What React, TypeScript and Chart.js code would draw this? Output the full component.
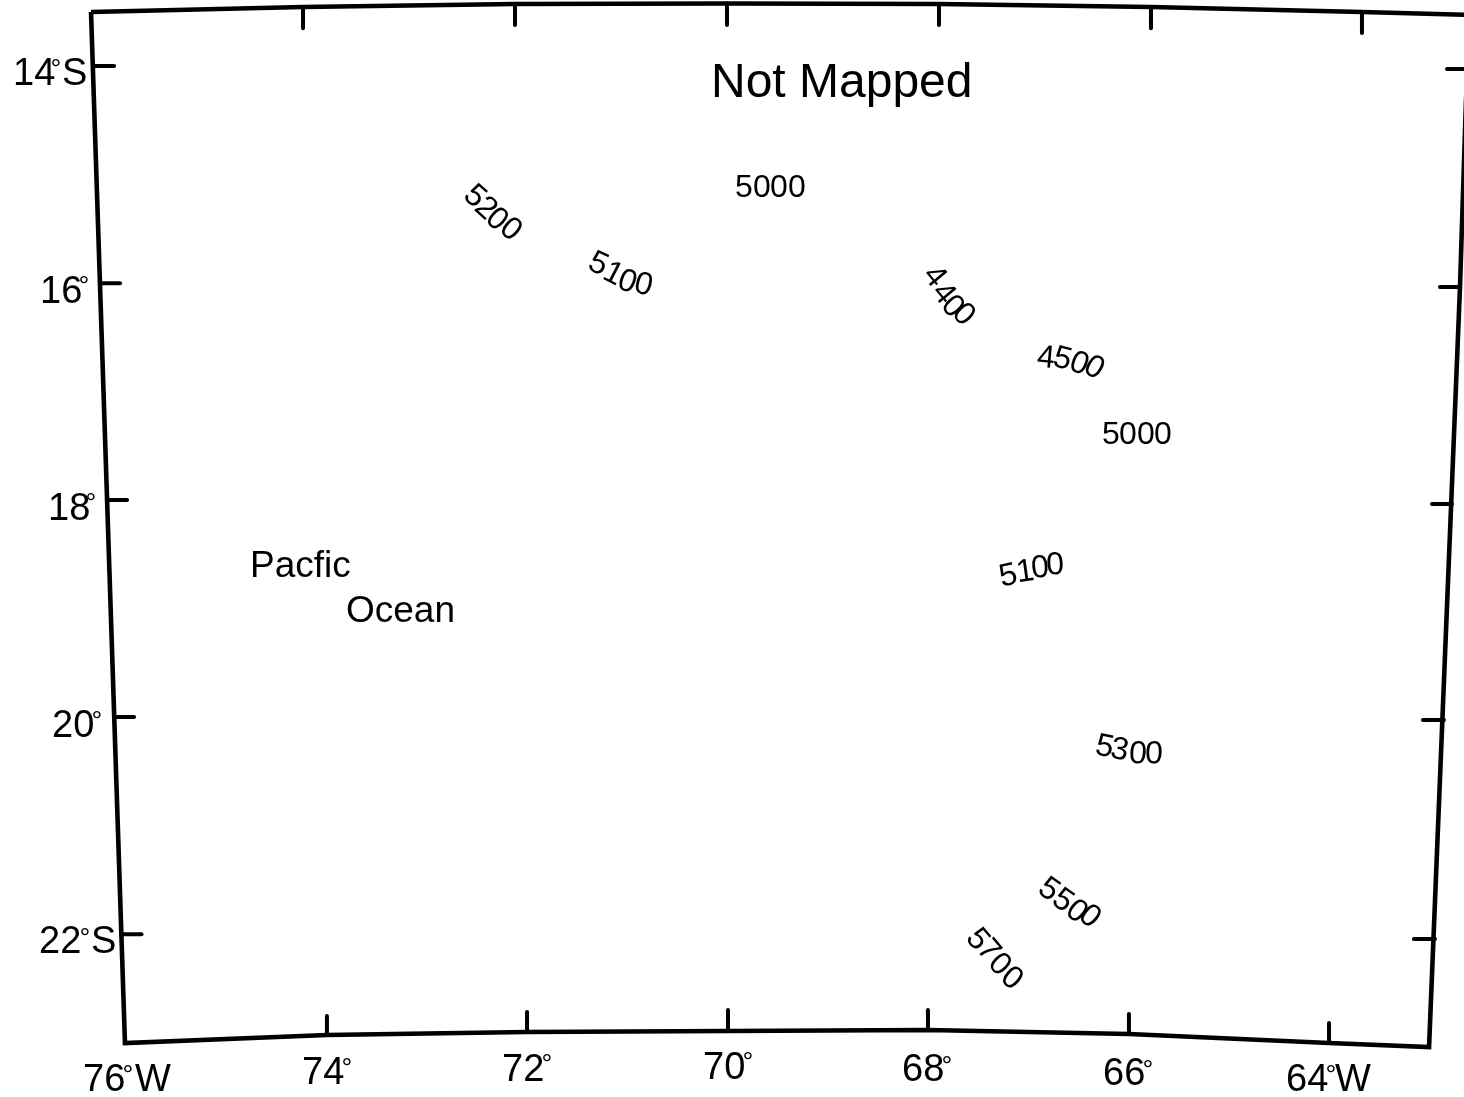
import React, { useEffect, useRef } from "react";
import { Chart, registerables } from "chart.js";

Chart.register(...registerables);

// Map frame, in degrees (west longitude, south latitude) of the map's plotting plane
const frameLon = [76.361, 74.244, 72.127, 70.01, 67.893, 65.776, 63.669, 62.57, 62.63, 62.69, 62.999, 63.998, 65.996, 68.003, 70.0, 72.007, 74.005, 76.022, 76.361];
const frameLat = [13.501, 13.455, 13.427, 13.422, 13.427, 13.455, 13.501, 13.528, 14.312, 16.035, 23.04, 23.003, 22.92, 22.883, 22.892, 22.901, 22.929, 23.003, 13.501];

const topTickLon = [74.244, 72.127, 70.01, 67.893, 65.776, 63.669];
const topTickOuter = [13.455, 13.427, 13.422, 13.427, 13.455, 13.501];
const topTickInner = [13.65, 13.62, 13.62, 13.62, 13.65, 13.695];

const bottomTickLon = [74.005, 72.007, 70.0, 68.003, 65.996, 63.998];
const bottomTickOuter = [22.929, 22.901, 22.892, 22.883, 22.92, 23.003];
const bottomTickInner = [22.754, 22.717, 22.699, 22.699, 22.735, 22.818];

const leftTickLat = [13.998, 16.0, 17.998, 19.998, 22.0];
const leftTickOuter = [76.331, 76.271, 76.201, 76.131, 76.057];
const leftTickInner = [76.131, 76.071, 76.001, 75.931, 75.857];

const rightTickLat = [14.026, 16.035, 18.035, 20.026, 22.044];
const rightTickOuter = [62.62, 62.69, 62.77, 62.85, 62.94];
const rightTickInner = [62.82, 62.89, 62.97, 63.06, 63.15];

// Text
const axisLabelNumbers = ["14", "16", "18", "20", "22", "76", "74", "72", "70", "68", "66", "64"];
const axisLabelSuffixes = ["S", "", "", "", "S", "W", "", "", "", "", "", "W"];
const contourValues = ["5000", "5200", "5100", "4400", "4500", "5000", "5100", "5300", "5500", "5700"];
const placeNames = ["Not Mapped", "Pacfic", "Ocean"];

// Layout of the text, separate from the values above (canvas pixels)
const FONT = '"Liberation Sans", Arial, sans-serif';
const axisFont = 38;
const contourFont = 32;
const degreeFont = 27;
const axisLabelLayout = [
  { x: 13, y: 85, dx: 56, dy: 63, sx: 62 },
  { x: 40, y: 303, dx: 84, dy: 280, sx: 0 },
  { x: 48, y: 520, dx: 91, dy: 497, sx: 0 },
  { x: 52, y: 737, dx: 97, dy: 715, sx: 0 },
  { x: 39, y: 953, dx: 85, dy: 932, sx: 91 },
  { x: 83, y: 1091, dx: 128, dy: 1069, sx: 135 },
  { x: 302, y: 1084, dx: 347, dy: 1062, sx: 0 },
  { x: 502, y: 1081, dx: 547, dy: 1058, sx: 0 },
  { x: 703, y: 1079, dx: 748, dy: 1056, sx: 0 },
  { x: 902, y: 1081, dx: 947, dy: 1060, sx: 0 },
  { x: 1103, y: 1085, dx: 1148, dy: 1064, sx: 0 },
  { x: 1286, y: 1091, dx: 1331, dy: 1069, sx: 1335 },
];
const placeLayout = [
  { x: 711, y: 97, size: 48 },
  { x: 250, y: 577, size: 37 },
  { x: 346, y: 622, size: 37 },
];
// per-character centre and rotation (degrees) along each contour
const contourLayout: number[][][] = [
  [[744, 186, 0], [762, 186, 0], [779, 186, 0], [797, 186, 0]],
  [[476, 195, 42], [487, 207, 42], [498, 218, 42], [512, 228, 40]],
  [[599, 262, 25], [614, 272, 27], [628, 280, 20], [644, 283, 15]],
  [[936, 275, 50], [945, 292, 50], [954, 305, 47], [965, 313, 45]],
  [[1046, 356, 5], [1063, 357, 15], [1080, 362, 22], [1095, 366, 30]],
  [[1111, 433, 0], [1128, 433, 0], [1146, 433, 0], [1163, 433, 0]],
  [[1008, 574, -12], [1025, 570, -8], [1040, 566, -5], [1055, 563, -3]],
  [[1105, 745, 12], [1120, 748, 10], [1138, 752, 5], [1154, 752, 2]],
  [[1050, 888, 35], [1064, 899, 35], [1078, 910, 38], [1091, 915, 40]],
  [[979, 938, 50], [990, 949, 50], [1001, 963, 45], [1013, 977, 40]],
];

const segment = (x0: number, y0: number, x1: number, y1: number) => ({
  data: [{ x: x0, y: y0 }, { x: x1, y: y1 }],
  borderColor: "#000",
  borderWidth: 4,
  borderCapStyle: "round",
  pointRadius: 0,
  showLine: true,
  fill: false,
  tension: 0,
});

const textPlugin = {
  id: "mapText",
  afterDatasetsDraw(chart: any) {
    const ctx = chart.ctx;
    ctx.save();
    ctx.fillStyle = "#000";
    ctx.textBaseline = "alphabetic";
    axisLabelNumbers.forEach((num, i) => {
      const l = axisLabelLayout[i];
      ctx.font = `${axisFont}px ${FONT}`;
      ctx.textAlign = "left";
      ctx.fillText(num, l.x, l.y);
      if (axisLabelSuffixes[i]) ctx.fillText(axisLabelSuffixes[i], l.sx, l.y);
      ctx.font = `${degreeFont}px ${FONT}`;
      ctx.textAlign = "center";
      ctx.fillText("\u00B0", l.dx, l.dy + 0.573 * degreeFont);
    });
    ctx.textAlign = "left";
    placeNames.forEach((name, i) => {
      const l = placeLayout[i];
      ctx.font = `${l.size}px ${FONT}`;
      ctx.fillText(name, l.x, l.y);
    });
    ctx.font = `${contourFont}px ${FONT}`;
    ctx.textAlign = "center";
    contourValues.forEach((v, i) => {
      Array.from(v).forEach((ch, j) => {
        const [x, y, deg] = contourLayout[i][j];
        ctx.save();
        ctx.translate(x, y);
        ctx.rotate((deg * Math.PI) / 180);
        ctx.fillText(ch, 0, 0.35 * contourFont);
        ctx.restore();
      });
    });
    ctx.restore();
  },
};

export default function App() {
  const ref = useRef<HTMLCanvasElement | null>(null);
  useEffect(() => {
    document.body.style.margin = "0";
    const datasets: any[] = [
      {
        data: frameLon.map((x, i) => ({ x, y: frameLat[i] })),
        borderColor: "#000",
        borderWidth: 4.6,
        borderJoinStyle: "miter",
        pointRadius: 0,
        showLine: true,
        fill: false,
        tension: 0,
      },
      ...topTickLon.map((x, i) => segment(x, topTickOuter[i], x, topTickInner[i])),
      ...bottomTickLon.map((x, i) => segment(x, bottomTickOuter[i], x, bottomTickInner[i])),
      ...leftTickLat.map((y, i) => segment(leftTickOuter[i], y, leftTickInner[i], y)),
      ...rightTickLat.map((y, i) => segment(rightTickOuter[i], y, rightTickInner[i], y)),
    ];
    const chart = new Chart(ref.current as HTMLCanvasElement, {
      type: "scatter",
      data: { datasets },
      options: {
        animation: false,
        responsive: false,
        devicePixelRatio: 1,
        layout: { padding: 0 },
        plugins: { legend: { display: false }, tooltip: { enabled: false } },
        scales: {
          x: { type: "linear", display: false, reverse: true, min: 62.65, max: 77.27 },
          y: { type: "linear", display: false, reverse: true, min: 13.39, max: 23.5 },
        },
      },
      plugins: [textPlugin],
    } as any);
    return () => chart.destroy();
  }, []);
  return <canvas ref={ref} width={1464} height={1097} style={{ display: "block" }} />;
}
